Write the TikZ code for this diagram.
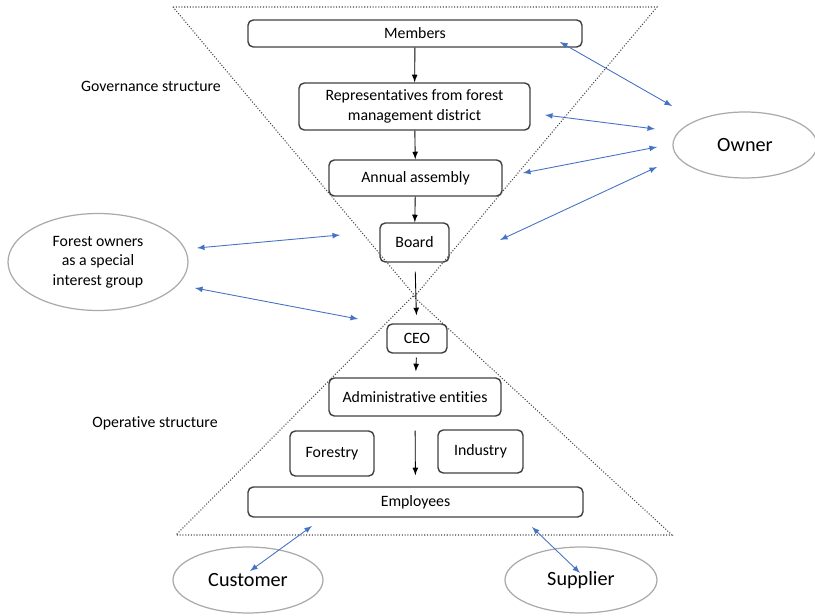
\documentclass[tikz,border=0pt]{standalone}
\usepackage{fontspec}
\setmainfont{Carlito}[Ligatures=NoCommon]
\usepackage{tikz}
\usetikzlibrary{shapes.geometric}

\definecolor{boxgray}{RGB}{64,64,64}
\definecolor{ovalgray}{RGB}{170,170,170}
\definecolor{linkblue}{RGB}{68,114,196}
\definecolor{dotgray}{RGB}{70,70,70}

\begin{document}
\begin{tikzpicture}[>=latex,
	box/.style={draw=boxgray, line width=0.8pt, rounded corners=3pt, align=center, inner sep=1pt, font=\fontsize{9}{11}\selectfont},
	oval/.style={draw=ovalgray, line width=0.7pt, ellipse, align=center, inner sep=0pt},
	link/.style={<->, linkblue, line width=0.5pt},
	flow/.style={->, black, line width=0.5pt},
	level/.style={dotgray, densely dotted, line width=0.6pt}]
	\useasboundingbox (0,0) rectangle (16.3,12.32);

	% hourglass
	\draw[level] (3.46,12.18) -- (13.14,12.18) -- (8.30,6.40) -- cycle;
	\draw[level] (8.26,6.40) -- (3.52,1.62) -- (13.44,1.62) -- cycle;

		\node   (gov) at (3.02,10.60) {\fontsize{9}{11}\selectfont Governance structure};
		\node   (ope) at (3.10,3.86) {\fontsize{9}{11}\selectfont Operative structure};

	\node	(members) at (8.30,11.65) [box, minimum width=6.68cm, minimum height=0.54cm] {Members};
	\node	(reps) at (8.29,10.19) [box, minimum width=4.62cm, minimum height=0.94cm] {Representatives from forest\\management district};
	\node	(annual) at (8.31,8.76) [box, minimum width=3.46cm, minimum height=0.72cm] {Annual assembly};
	\node	(board) at (8.29,7.47) [box, minimum width=1.38cm, minimum height=0.78cm] {Board};
	\node	(ceo) at (8.34,5.55) [box, minimum width=1.20cm, minimum height=0.58cm] {CEO};
	\node	(admin) at (8.30,4.38) [box, minimum width=3.44cm, minimum height=0.76cm] {Administrative entities};
	\node	(forestry) at (6.64,3.25) [box, minimum width=1.68cm, minimum height=0.90cm] {Forestry};
	\node	(industry) at (9.61,3.29) [box, minimum width=1.70cm, minimum height=0.86cm] {Industry};
	\node	(employees) at (8.31,2.28) [box, minimum width=6.70cm, minimum height=0.60cm] {Employees};

	\node	(owner) at (14.90,9.42) [oval, minimum width=2.88cm, minimum height=1.32cm, font=\fontsize{11.5}{13}\selectfont] {Owner};
	\node	(interest) at (1.96,7.08) [oval, minimum width=3.60cm, minimum height=1.94cm, font=\fontsize{9}{11}\selectfont] {Forest owners\\as a special\\interest group};
	\node	(customer) at (4.96,0.72) [oval, minimum width=3.00cm, minimum height=1.32cm, font=\fontsize{11.5}{13}\selectfont] {Customer};
	\node	(supplier) at (11.62,0.72) [oval, minimum width=3.04cm, minimum height=1.32cm, font=\fontsize{11.5}{13}\selectfont] {Supplier};

	% ends of the blue links
	\coordinate (m1) at (11.20,11.48);	\coordinate (o1) at (13.44,10.20);
	\coordinate (r1) at (10.90,10.02);	\coordinate (o2) at (13.10,9.74);
	\coordinate (a1) at (10.46,8.86);	\coordinate (o3) at (13.14,9.38);
	\coordinate (b1) at (10.00,7.52);	\coordinate (o4) at (13.14,8.98);
	\coordinate (i1) at (3.94,7.36);	\coordinate (b2) at (6.80,7.62);
	\coordinate (i2) at (3.90,6.56);	\coordinate (c1) at (7.16,5.94);
	\coordinate (cu) at (5.00,0.90);	\coordinate (e1) at (6.24,1.80);
	\coordinate (su) at (11.60,0.86);	\coordinate (e2) at (10.64,1.78);

	\draw
	(members) edge[flow] (reps)
	(reps) edge[flow] (annual)
	(annual) edge[flow] (board)
	(board) edge[flow, shorten <=0.18cm, shorten >=0.16cm] (ceo)
	(ceo) edge[flow, shorten <=0.08cm, shorten >=0.12cm] (admin)
	(admin) edge[flow, shorten <=0.28cm, shorten >=0.22cm] (employees)
	;

	\draw
	(m1) edge[link] (o1)
	(r1) edge[link] (o2)
	(a1) edge[link] (o3)
	(b1) edge[link] (o4)
	(i1) edge[link] (b2)
	(i2) edge[link] (c1)
	(cu) edge[link] (e1)
	(su) edge[link] (e2)
	;
\end{tikzpicture}
\end{document}
